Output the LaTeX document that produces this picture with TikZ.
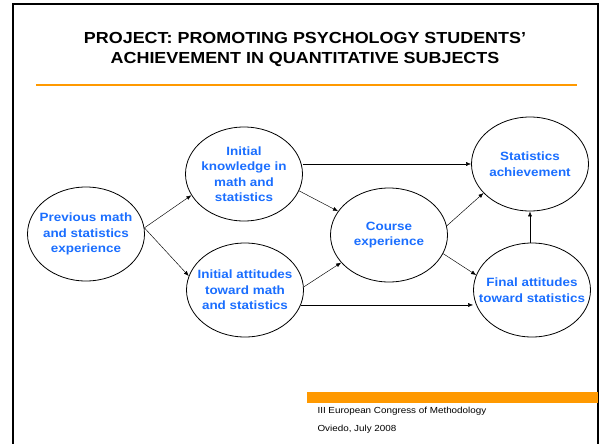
\documentclass[tikz,border=0pt]{standalone}
\usepackage{fontspec}
\setmainfont{Liberation Sans}[FakeStretch=1.12]
\usepackage{xcolor}
\usetikzlibrary{shapes.geometric}
\usetikzlibrary{arrows.meta}
\definecolor{ppblue}{RGB}{26,110,255}
\definecolor{pporange}{RGB}{255,153,0}

\begin{document}
\begin{tikzpicture}[x=1pt,y=-1pt,
  bubble/.style={draw,ellipse,line width=0.8pt,minimum width=117pt,minimum height=94pt,
    inner sep=-2em,align=center,text=ppblue,font=\fontsize{12}{15.5}\selectfont\bfseries},
  link/.style={-{Latex[length=5pt,width=4pt]},line width=0.45pt}]
\useasboundingbox (0,0) rectangle (602,444);
\draw [line width=2pt] (13,448) -- (13,4) -- (598,4) -- (598,448);

\node [align=center,font=\fontsize{16}{20}\selectfont\bfseries] (title) at (305,49)
  {PROJECT: PROMOTING PSYCHOLOGY STUDENTS’\\ACHIEVEMENT IN QUANTITATIVE SUBJECTS};
\draw [pporange,line width=1.2pt] (36,85) -- (577,85);

\node [bubble] (prev) at (86,234) {Previous math\\and statistics\\experience};
\node [bubble] (know) at (244,174) {Initial\\knowledge in\\math and\\statistics};
\node [bubble] (att) at (245,290) {Initial attitudes\\toward math\\and statistics};
\node [bubble] (course) at (389,235) {Course\\experience};
\node [bubble] (stat) at (530,164) {Statistics\\achievement};
\node [bubble] (fin) at (532,290) {Final attitudes\\toward statistics};

\coordinate (fork) at (prev.6);
\draw [link] (fork) -- (know.202);
\draw [link] (fork) -- (att.166);
\draw [link] (know.east |- stat.west) -- (stat.west);
\draw [link] (know.343) -- (course.155);
\draw [link] (att.3) -- (course.210);
\draw [link] (att.345) -- (att.345 -| fin.west);
\draw [link] (course.9) -- (stat.212);
\draw [link] (course.341) -- (fin.165);
\draw [link] (fin.north -| stat.south) -- (stat.south);

\fill [pporange] (307,392) rectangle (598,403);
\node [anchor=north west,align=left,font=\fontsize{8.8}{18}\selectfont] (venue) at (314,404)
  {III European Congress of Methodology\\Oviedo, July 2008};
\end{tikzpicture}
\end{document}
